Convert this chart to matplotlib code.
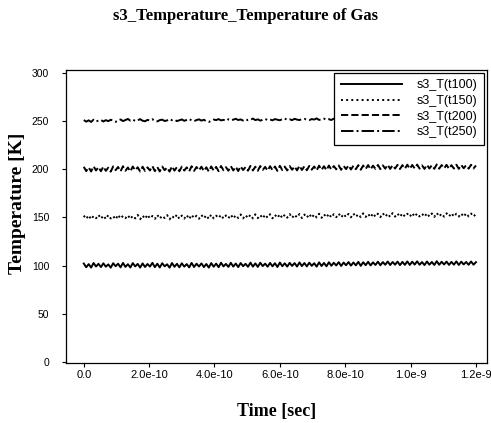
import numpy as np
import matplotlib
matplotlib.use('Agg')
from matplotlib import pyplot as plt

# sampling step of the time series [sec]
dt = 7.5e-12

t100 = [102.1, 98.2, 101.5, 97.9, 102.6, 99.0, 101.8, 98.4, 102.3, 98.8,
        101.2, 97.8, 102.4, 99.3, 101.9, 98.1, 102.7, 98.6, 101.4, 98.0,
        102.5, 99.1, 101.7, 97.9, 102.2, 98.5, 101.6, 98.9, 102.8, 98.3,
        101.9, 98.0, 102.4, 99.2, 101.3, 97.8, 102.6, 98.7, 101.8, 98.2,
        102.3, 98.9, 101.5, 98.1, 102.7, 98.5, 101.9, 99.0, 102.2, 98.4,
        101.6, 97.9, 102.5, 98.8, 102.0, 98.3, 102.9, 99.1, 101.7, 98.6,
        102.8, 98.9, 102.1, 98.4, 102.6, 99.3, 101.8, 98.7, 103.0, 98.9,
        102.2, 98.6, 102.9, 99.4, 102.0, 98.8, 102.7, 99.2, 102.4, 98.5,
        103.1, 99.3, 102.3, 98.9, 102.8, 99.6, 102.5, 99.0, 103.2, 99.4,
        102.6, 99.1, 103.0, 99.7, 102.4, 98.9, 103.3, 99.5, 102.7, 99.2,
        103.4, 99.8, 102.9, 100.1, 103.5, 99.6, 103.1, 100.3, 103.6, 99.9,
        103.2, 100.2, 103.8, 99.7, 103.4, 100.4, 103.9, 100.1, 103.3, 100.6,
        104.0, 100.3, 103.6, 100.8, 104.2, 100.5, 103.7, 100.9, 104.1, 100.4,
        103.8, 100.7, 104.3, 100.6, 104.0, 101.0, 104.4, 100.8, 103.6, 100.5,
        104.2, 100.9, 103.7, 100.6, 104.5, 100.8, 103.9, 101.1, 104.1, 100.7,
        103.8, 100.9, 104.3, 100.6, 104.0, 101.2, 103.7, 100.8, 104.2, 100.9,
        103.5]

t150 = [151.8, 148.3, 152.2, 147.9, 151.5, 149.0, 152.6, 148.5, 151.9, 148.1,
        152.4, 148.8, 151.3, 147.8, 152.7, 148.6, 151.6, 149.1, 152.3, 148.2,
        151.7, 148.9, 152.5, 148.0, 151.9, 148.4, 152.8, 148.7, 151.4, 148.3,
        152.6, 148.5, 151.8, 149.2, 152.3, 147.9, 151.6, 148.8, 152.9, 148.4,
        151.9, 148.6, 152.4, 148.1, 152.7, 149.0, 151.7, 148.5, 152.5, 148.9,
        152.2, 148.3, 152.9, 148.8, 151.8, 149.2, 152.6, 148.6, 152.0, 149.0,
        152.8, 148.7, 152.3, 149.3, 153.0, 148.9, 152.4, 149.1, 152.7, 148.8,
        153.1, 149.2, 152.5, 148.9, 152.9, 149.5, 153.2, 149.0, 152.6, 149.4,
        153.3, 149.1, 152.8, 149.6, 153.4, 149.3, 152.9, 149.7, 153.5, 149.2,
        152.9, 149.6, 153.6, 149.4, 153.1, 149.8, 153.7, 149.5, 153.2, 149.9,
        153.8, 149.7, 153.3, 150.1, 153.9, 149.8, 153.5, 150.2, 153.6, 150.0,
        154.0, 150.3, 153.4, 150.1, 154.1, 150.4, 153.7, 150.0, 154.2, 150.5,
        153.8, 150.2, 154.3, 150.6, 153.9, 150.3, 154.4, 150.7, 154.0, 150.4,
        154.2, 150.8, 153.7, 150.5, 154.5, 150.6, 154.1, 150.9, 153.8, 150.5,
        154.3, 150.7, 154.0, 150.4, 154.6, 150.8, 153.9, 150.6, 154.2, 150.9,
        154.4, 150.6, 153.8, 150.8, 154.1, 150.5, 154.3, 150.9, 154.0, 150.7,
        153.6]

t200 = [202.4, 197.9, 201.8, 197.5, 202.9, 198.6, 202.1, 197.8, 202.6, 198.2,
        201.5, 197.4, 202.8, 198.9, 202.2, 197.7, 203.0, 198.3, 201.7, 197.6,
        202.7, 198.8, 201.9, 197.5, 202.5, 198.1, 201.8, 198.6, 203.1, 197.9,
        202.2, 197.6, 202.7, 198.9, 201.6, 197.4, 202.9, 198.4, 202.1, 197.8,
        202.6, 198.5, 201.8, 197.7, 203.0, 198.2, 202.2, 198.7, 202.5, 198.0,
        201.9, 197.5, 202.8, 198.4, 202.3, 197.9, 203.2, 198.8, 202.0, 198.3,
        203.1, 198.6, 202.4, 198.0, 202.9, 199.0, 202.1, 198.4, 203.3, 198.6,
        202.5, 198.3, 203.2, 199.1, 202.3, 198.5, 203.0, 198.9, 202.7, 198.2,
        203.4, 199.0, 202.6, 198.6, 203.1, 199.3, 202.8, 198.7, 203.5, 199.1,
        202.9, 198.8, 203.3, 199.4, 202.7, 198.6, 203.6, 199.2, 203.0, 198.9,
        203.7, 199.5, 203.2, 199.8, 203.8, 199.3, 203.4, 200.0, 203.9, 199.6,
        203.5, 199.9, 204.1, 199.4, 203.7, 200.1, 204.2, 199.8, 203.6, 200.3,
        204.3, 200.0, 203.9, 200.5, 204.5, 200.2, 204.0, 200.6, 204.4, 200.1,
        204.1, 200.4, 204.6, 200.3, 204.3, 200.7, 204.7, 200.5, 203.9, 200.2,
        204.5, 200.6, 204.0, 200.3, 204.8, 200.5, 204.2, 200.8, 204.4, 200.4,
        204.1, 200.6, 204.6, 200.3, 204.3, 200.9, 204.0, 200.5, 204.5, 200.6,
        203.8]

t250 = [250.9, 249.2, 250.6, 248.9, 251.3, 249.5, 250.2, 251.0, 249.4, 250.8,
        249.7, 251.2, 250.1, 249.0, 250.7, 251.5, 249.8, 250.9, 252.0, 250.3,
        251.4, 249.9, 250.6, 251.8, 250.2, 249.6, 251.1, 250.4, 251.7, 250.0,
        249.5, 250.8, 251.3, 249.9, 250.5, 251.9, 250.7, 251.2, 249.8, 250.6,
        251.5, 250.1, 251.0, 252.1, 250.4, 249.7, 250.9, 251.6, 250.3, 251.2,
        249.6, 248.9, 250.2, 251.4, 250.8, 251.9, 250.5, 251.1, 250.0, 251.7,
        250.6, 251.3, 252.2, 250.9, 251.5, 250.4, 251.8, 250.7, 251.2, 252.4,
        250.8, 251.6, 250.3, 251.1, 252.0, 250.9, 251.4, 250.6, 251.9, 251.2,
        250.7, 251.8, 252.5, 251.0, 251.6, 250.8, 252.2, 251.3, 250.9, 251.7,
        252.1, 251.2, 250.8, 251.9, 251.4, 252.6, 251.0, 251.7, 252.3, 251.1,
        251.8, 250.9, 252.4, 251.3, 251.9, 250.8, 252.2, 251.5, 252.7, 251.0,
        251.6, 252.3, 251.1, 252.0, 251.4, 252.8, 251.2, 251.9, 252.5, 251.3,
        252.1, 251.0, 252.6, 251.5, 252.2, 251.7, 252.9, 251.4, 252.0, 251.8,
        252.4, 251.2, 252.7, 251.6, 252.1, 253.0, 251.5, 252.3, 251.9, 252.6,
        251.7, 252.5, 251.3, 252.8, 252.0, 251.6, 252.4, 251.9, 253.1, 252.2,
        251.8, 252.6, 252.1, 252.9, 251.7, 252.3, 252.7, 251.9, 252.5, 252.2,
        252.0]

series = [('s3_T(t100)', t100, '-'),
          ('s3_T(t150)', t150, ':'),
          ('s3_T(t200)', t200, '--'),
          ('s3_T(t250)', t250, '-.')]

xtick_vals = [0.0, 2.0e-10, 4.0e-10, 6.0e-10, 8.0e-10, 1.0e-9, 1.2e-9]
xtick_labels = ['0.0', '2.0e-10', '4.0e-10', '6.0e-10', '8.0e-10', '1.0e-9', '1.2e-9']
ytick_vals = [0, 50, 100, 150, 200, 250, 300]

serif = ['Liberation Serif', 'DejaVu Serif']
sans = ['Liberation Sans', 'DejaVu Sans']

fig = plt.figure(figsize=(4.91, 4.23), dpi=100)
ax = fig.add_axes([0.134, 0.142, 0.858, 0.693])

for label, vals, ls in series:
    times = np.arange(len(vals)) * dt
    ax.plot(times, vals, color='black', linestyle=ls, linewidth=1.4, label=label)

ax.set_xlim(-0.055e-9, 1.234e-9)
ax.set_ylim(-1, 303)
ax.set_xticks(xtick_vals)
ax.set_xticklabels(xtick_labels, family=sans, fontsize=8)
ax.set_yticks(ytick_vals)
ax.set_yticklabels([str(v) for v in ytick_vals], family=sans, fontsize=7.5)
ax.tick_params(direction='out', length=3, width=0.8, top=False, right=False)
ax.tick_params(axis='x', pad=2)
ax.tick_params(axis='y', pad=9)
for s in ax.spines.values():
    s.set_linewidth(0.9)

ax.set_xlabel('Time [sec]', family=serif, fontweight='bold', fontsize=13, labelpad=17)
ax.set_ylabel('Temperature [K]', family=serif, fontweight='bold', fontsize=14)
ax.yaxis.set_label_coords(-0.095, 0.546)
fig.suptitle('s3_Temperature_Temperature of Gas', family=serif, fontweight='bold',
             fontsize=12, x=0.5, y=0.982)

leg = ax.legend(loc='upper right', borderaxespad=0.25, fancybox=False, framealpha=1,
                edgecolor='black', handlelength=4.9, handletextpad=1.2,
                labelspacing=0.3, borderpad=0.5, prop={'family': sans, 'size': 9})
leg.get_frame().set_linewidth(0.9)

fig.savefig('out.png', dpi=100)
